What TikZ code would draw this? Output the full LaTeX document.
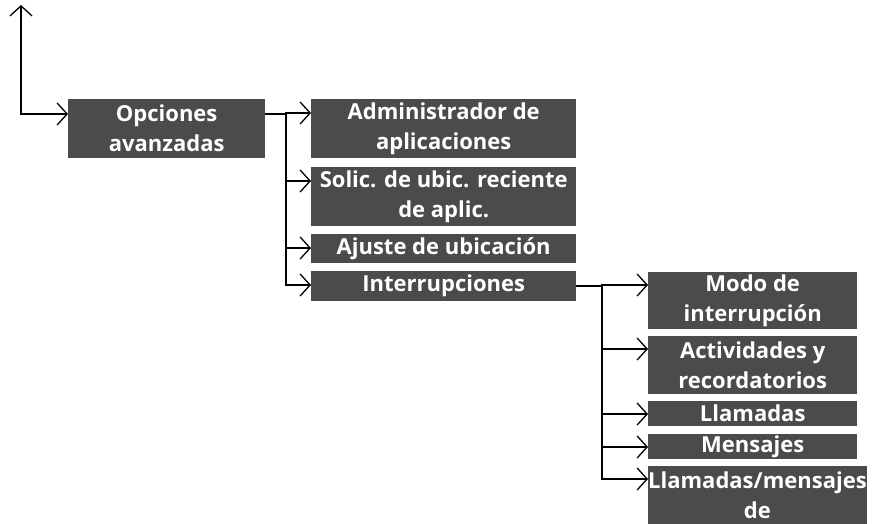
\documentclass[tikz,border=0pt]{standalone}
\usepackage{fontspec}
\setmainfont{Open Sans}
\usepackage{tikz}
\usetikzlibrary{arrows.meta,calc}
\tikzset{>={Straight Barb[length=10pt,width=22pt,line width=1.3pt]}}
\definecolor{menugray}{HTML}{4B4B4B}
\tikzset{
  menu/.style={fill=menugray,text=white,anchor=north west,inner sep=0pt,align=center,
    font=\bfseries\fontsize{22}{30}\selectfont},
  link/.style={line width=2pt}
}

\begin{document}
\begin{tikzpicture}[x=1pt,y=-1pt]
\useasboundingbox (0,0) rectangle (872,523);
% first level
\node[menu,minimum width=197,minimum height=59] (opc) at (68,99) {Opciones\\avanzadas};
% second level
\node[menu,minimum width=265,minimum height=59] (adm) at (311,99) {Administrador de\\aplicaciones};
\node[menu,minimum width=265,minimum height=59] (sol) at (311,167) {Solic. de ubic. reciente\\de aplic.};
\node[menu,minimum width=265,minimum height=29] (aju) at (311,234) {Ajuste de ubicación};
\node[menu,minimum width=265,minimum height=30] (intr) at (311,271) {Interrupciones};
% third level
\node[menu,minimum width=209,minimum height=57] (modo) at (648,272) {Modo de\\interrupción};
\node[menu,minimum width=209,minimum height=58] (act) at (648,336) {Actividades y\\recordatorios};
\node[menu,minimum width=209,minimum height=25] (llam) at (648,401) {Llamadas};
\node[menu,minimum width=209,minimum height=25] (mens) at (648,434) {Mensajes};
\node[menu,minimum width=209,minimum height=58] (llm) at (648,466) {Llamadas/mensajes\\de};

\coordinate (up) at (21,5);
\coordinate (fork1) at ($([yshift=-15pt]opc.north east)+(21,0)$);
\coordinate (fork2) at ($([yshift=-15pt]intr.north east)+(26,0)$);

\draw[link,<->] (up) |- ([yshift=-15pt]opc.north west);
\draw[link] ([yshift=-15pt]opc.north east) -- (fork1);
\foreach \c in {adm,sol,aju,intr}
  \draw[link,->] (fork1) |- ([yshift=-14pt]\c.north west);
\draw[link] ([yshift=-15pt]intr.north east) -- (fork2);
\foreach \c in {modo,act,llam,mens,llm}
  \draw[link,->] (fork2) |- ([yshift=-13pt]\c.north west);
\end{tikzpicture}
\end{document}
